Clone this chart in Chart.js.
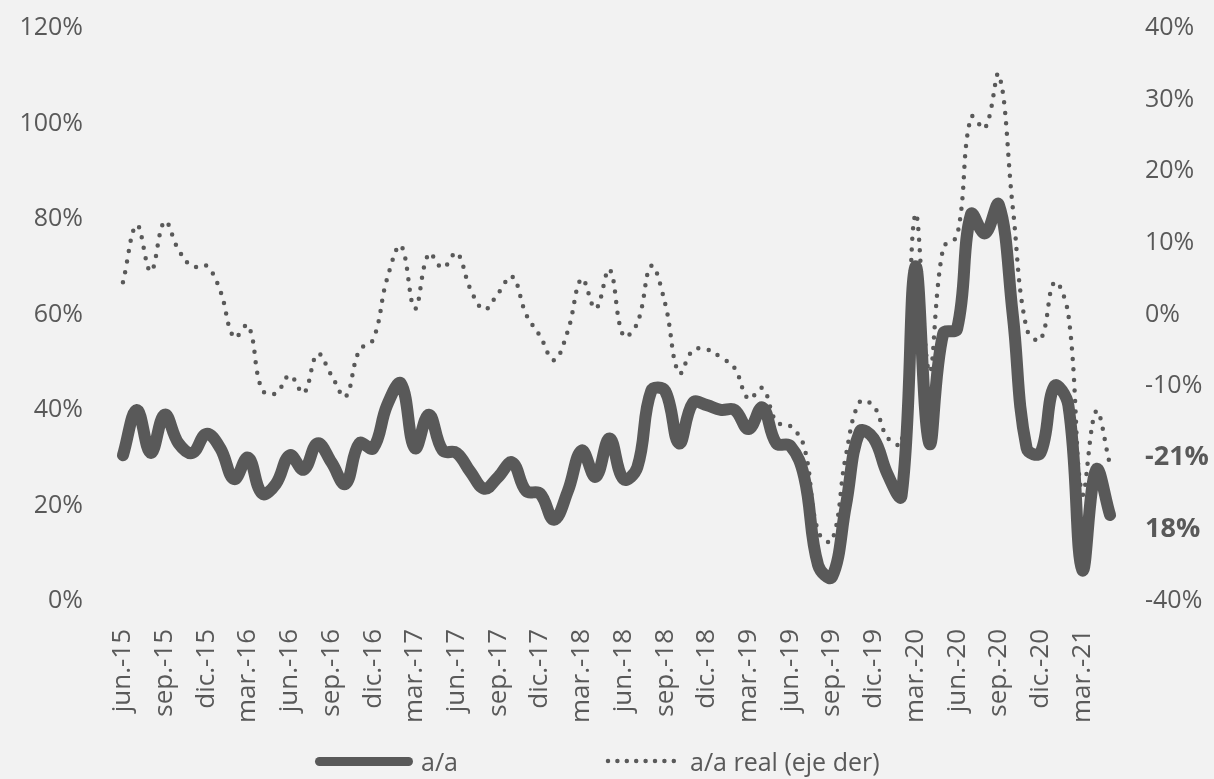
<!DOCTYPE html>
<html>
<head>
<meta charset="utf-8">
<script src="https://cdn.jsdelivr.net/npm/chart.js@4"></script>
<style>
  html, body { margin: 0; padding: 0; background: #f2f2f2; }
  #wrap { position: relative; width: 1214px; height: 779px; }
  #legend { position: absolute; left: 0; top: 744px; width: 1214px; height: 34px;
            font-family: "Open Sans", sans-serif; font-size: 25px; color: #595959; }
  #legend .item { position: absolute; top: 0; height: 34px; display: flex; align-items: center; }
  #legend .solid { display: inline-block; width: 98px; height: 9px; border-radius: 5px; background: #595959; margin-right: 8px; }
  #legend svg { margin-right: 12px; }
</style>
</head>
<body>
<div id="wrap">
  <canvas id="myChart" width="1214" height="779"></canvas>
  <div id="legend">
    <div class="item" style="left:315px"><span class="solid"></span>a/a</div>
    <div class="item" style="left:604px">
      <svg width="74" height="8"><line x1="4" y1="4" x2="70" y2="4" stroke="#595959" stroke-width="4.5" stroke-linecap="round" stroke-dasharray="0 9.4"/></svg>a/a real (eje der)
    </div>
  </div>
</div>
<script>
  const labels = [
    'jun.-15', 'jul.-15', 'ago.-15', 'sep.-15', 'oct.-15', 'nov.-15', 'dic.-15',
    'ene.-16', 'feb.-16', 'mar.-16', 'abr.-16', 'may.-16', 'jun.-16', 'jul.-16', 'ago.-16', 'sep.-16', 'oct.-16', 'nov.-16', 'dic.-16',
    'ene.-17', 'feb.-17', 'mar.-17', 'abr.-17', 'may.-17', 'jun.-17', 'jul.-17', 'ago.-17', 'sep.-17', 'oct.-17', 'nov.-17', 'dic.-17',
    'ene.-18', 'feb.-18', 'mar.-18', 'abr.-18', 'may.-18', 'jun.-18', 'jul.-18', 'ago.-18', 'sep.-18', 'oct.-18', 'nov.-18', 'dic.-18',
    'ene.-19', 'feb.-19', 'mar.-19', 'abr.-19', 'may.-19', 'jun.-19', 'jul.-19', 'ago.-19', 'sep.-19', 'oct.-19', 'nov.-19', 'dic.-19',
    'ene.-20', 'feb.-20', 'mar.-20', 'abr.-20', 'may.-20', 'jun.-20', 'jul.-20', 'ago.-20', 'sep.-20', 'oct.-20', 'nov.-20', 'dic.-20',
    'ene.-21', 'feb.-21', 'mar.-21', 'abr.-21', 'may.-21'
  ];

  // a/a nominal (%), eje izquierdo
  const nominal = [
    30.5, 40, 31, 39, 33, 31, 35, 32, 25.5, 30, 22.5, 24.5,
    30.5, 27.5, 33, 29, 24.5, 33, 32, 41, 45.5, 32, 39, 31.5,
    31, 27, 23.5, 26, 29, 23, 22.5, 17, 23, 31.5, 26, 34,
    25.5, 28, 44, 44, 33, 41.5, 41, 40, 40, 36, 40.5, 33,
    32.5, 26, 7.5, 5, 20, 35.5, 34, 26.5, 22, 70, 33, 56,
    57, 81, 77, 83, 60, 32, 31, 45, 41, 6.5, 27.5, 18
  ];

  // a/a real (%), eje derecho
  const real = [
    4.5, 12.5, 6, 13, 9, 6.7, 6.8, 3.3, -3.2, -1.5, -10.5, -11,
    -8.5, -11, -5.5, -8.5, -11.5, -5, -3.5, 5, 9.6, 0.8, 8.5, 6.5,
    8.6, 3.5, 0.7, 3, 5.3, 0, -3, -6.4, -2.3, 5, 0.8, 6.3,
    -3, -1.2, 6.8, 1.5, -8.2, -5, -4.9, -6, -7.5, -11.8, -10.3, -15,
    -15.6, -18.5, -30.3, -31.6, -19.7, -12.2, -12.8, -17.2, -18, 14, -8, 9.3,
    11, 27.6, 26, 33.5, 15, -2, -3.5, 4.5, 0, -25, -13.5, -21
  ];

  const leftTicks = [0, 20, 40, 60, 80, 100, 120];
  const rightTicks = [-40, -30, -20, -10, 0, 10, 20, 30, 40];

  const grey = '#595959';
  const font = { family: '"Open Sans", sans-serif', size: 25 };
  const xFont = { family: '"Open Sans", sans-serif', size: 26 };
  const boldFont = { family: '"Open Sans", sans-serif', size: 27, weight: 'bold' };

  // las dos etiquetas en negrita del eje derecho muestran el último dato de cada serie
  const lastReal = Math.round(real[real.length - 1]) + '%';
  const lastNominal = Math.round(nominal[nominal.length - 1]) + '%';

  const data = {
    labels: labels,
    datasets: [{
      label: 'a/a',
      data: nominal,
      yAxisID: 'y',
      borderColor: grey,
      borderWidth: 12,
      borderCapStyle: 'round',
      borderJoinStyle: 'round',
      tension: 0.4,
      pointRadius: 0
    }, {
      label: 'a/a real (eje der)',
      data: real,
      yAxisID: 'y1',
      borderColor: grey,
      borderWidth: 4.5,
      borderDash: [0, 10.5],
      borderCapStyle: 'round',
      tension: 0.4,
      pointRadius: 0
    }]
  };

  const config = {
    type: 'line',
    data: data,
    options: {
      responsive: false,
      animation: false,
      layout: { padding: { top: 28, bottom: 36, left: 0, right: 0 } },
      plugins: { legend: { display: false }, tooltip: { enabled: false } },
      scales: {
        x: {
          offset: true,
          grid: { display: false },
          border: { display: false },
          ticks: {
            autoSkip: false,
            maxRotation: 90,
            minRotation: 90,
            padding: 20,
            color: grey,
            font: xFont,
            callback: function (value, index) {
              return index % 3 === 0 ? labels[index] : '';
            }
          }
        },
        y: {
          position: 'left',
          min: 0,
          max: 120,
          grid: { display: false },
          border: { display: false },
          afterBuildTicks: function (scale) { scale.ticks = leftTicks.map(v => ({ value: v })); },
          afterFit: function (scale) { scale.width = 116; scale.paddingTop = 0; scale.paddingBottom = 0; },
          ticks: {
            padding: 25,
            color: grey,
            font: font,
            callback: function (value) { return value + '%'; }
          }
        },
        y1: {
          position: 'right',
          min: -40,
          max: 40,
          grid: { display: false },
          border: { display: false },
          afterBuildTicks: function (scale) { scale.ticks = rightTicks.map(v => ({ value: v })); },
          afterFit: function (scale) { scale.width = 97; scale.paddingTop = 0; scale.paddingBottom = 0; },
          ticks: {
            padding: 20,
            color: grey,
            font: function (ctx) {
              const v = ctx.tick ? ctx.tick.value : null;
              return (v === -20 || v === -30) ? boldFont : font;
            },
            callback: function (value) {
              if (value === -20) return lastReal;
              if (value === -30) return lastNominal;
              return value + '%';
            }
          }
        }
      }
    }
  };

  const myChart = new Chart(document.getElementById('myChart'), config);
</script>
</body>
</html>
